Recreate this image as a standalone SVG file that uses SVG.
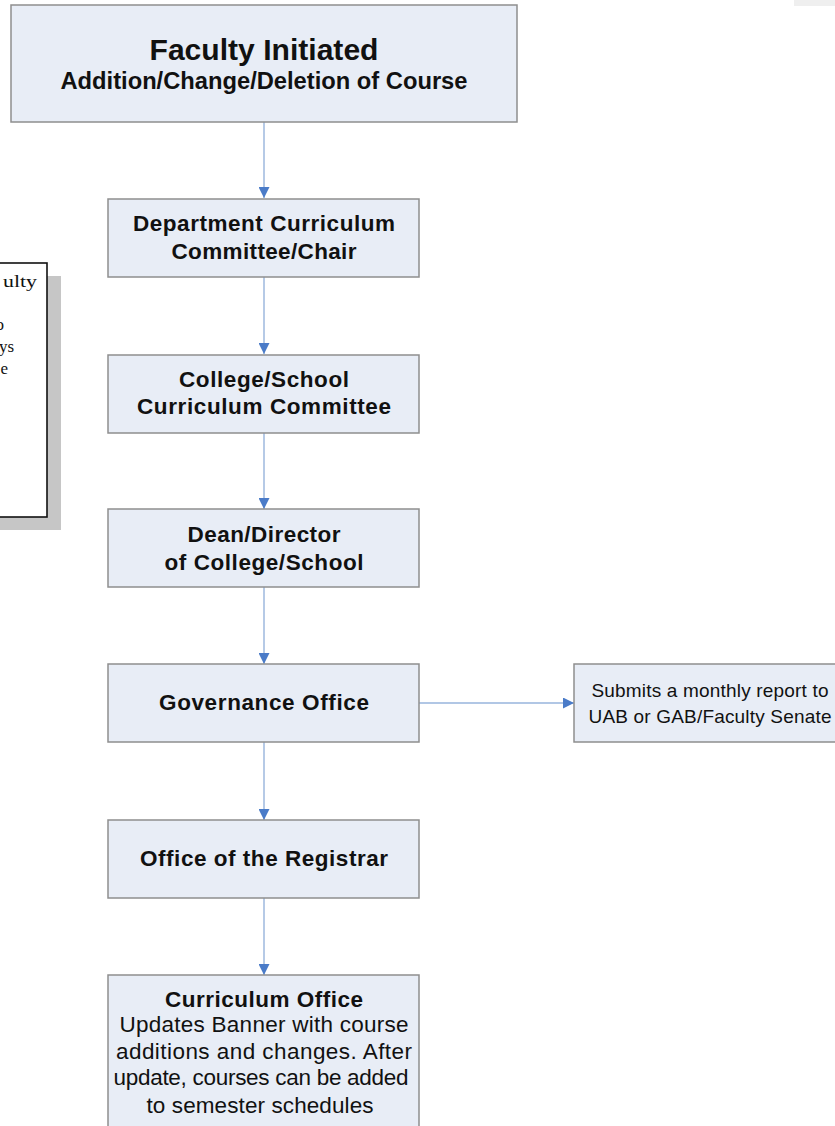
<svg xmlns="http://www.w3.org/2000/svg" width="835" height="1126" viewBox="0 0 835 1126">
<defs>
<marker id="ah" markerUnits="userSpaceOnUse" markerWidth="11" markerHeight="11" refX="11" refY="5.5" orient="auto">
<path d="M0,0 L11,5.5 L0,11 z" fill="#4a7bc8"/>
</marker>
</defs>
<style>
.box{fill:#e8edf6;stroke:#8e8e8e;stroke-width:1.5}
.b{font-family:"Liberation Sans",Arial,sans-serif;font-weight:bold;fill:#111;text-anchor:middle}
.r{font-family:"Liberation Sans",Arial,sans-serif;fill:#111;text-anchor:middle}
.t{font-family:"Liberation Serif","Times New Roman",serif;font-size:17px;fill:#111;text-anchor:end}
.c{stroke:#97b4dc;stroke-width:1.4;fill:none}
</style>
<rect x="794" y="0" width="41" height="6" fill="#efefef"/>
<g id="note">
<rect x="-186" y="276" width="247" height="254" fill="#c6c6c6"/>
<rect x="-200" y="263" width="247" height="254" fill="#fff" stroke="#111" stroke-width="1.6"/>
<text class="t" x="37" y="287" textLength="34" lengthAdjust="spacingAndGlyphs">ulty</text>
<text class="t" x="4" y="330">o</text>
<text class="t" x="14" y="352">ys</text>
<text class="t" x="8" y="374">e</text>
</g>
<g id="connectors">
<line class="c" x1="264" y1="122" x2="264" y2="198" marker-end="url(#ah)"/>
<line class="c" x1="264" y1="277" x2="264" y2="354" marker-end="url(#ah)"/>
<line class="c" x1="264" y1="433" x2="264" y2="509" marker-end="url(#ah)"/>
<line class="c" x1="264" y1="587" x2="264" y2="664" marker-end="url(#ah)"/>
<line class="c" x1="264" y1="742" x2="264" y2="820" marker-end="url(#ah)"/>
<line class="c" x1="264" y1="898" x2="264" y2="975" marker-end="url(#ah)"/>
<line class="c" x1="419" y1="703" x2="574" y2="703" marker-end="url(#ah)"/>
</g>
<g id="faculty">
<rect class="box" x="11" y="5" width="506" height="117"/>
<text class="b" x="264" y="60" font-size="29" textLength="229" lengthAdjust="spacingAndGlyphs">Faculty Initiated</text>
<text class="b" x="264" y="89" font-size="23" textLength="407" lengthAdjust="spacingAndGlyphs">Addition/Change/Deletion of Course</text>
</g>
<g id="department">
<rect class="box" x="108" y="199" width="311" height="78"/>
<text class="b" x="264" y="231" font-size="22.5" textLength="262">Department Curriculum</text>
<text class="b" x="264" y="259" font-size="22.5" textLength="185">Committee/Chair</text>
</g>
<g id="college">
<rect class="box" x="108" y="355" width="311" height="78"/>
<text class="b" x="264" y="387" font-size="22.5" textLength="170">College/School</text>
<text class="b" x="264" y="414" font-size="22.5" textLength="254">Curriculum Committee</text>
</g>
<g id="dean">
<rect class="box" x="108" y="509" width="311" height="78"/>
<text class="b" x="264" y="542" font-size="22.5" textLength="153">Dean/Director</text>
<text class="b" x="264" y="570" font-size="22.5" textLength="199">of College/School</text>
</g>
<g id="governance">
<rect class="box" x="108" y="664" width="311" height="78"/>
<text class="b" x="264" y="710" font-size="22.5" textLength="210">Governance Office</text>
</g>
<g id="report">
<rect class="box" x="574" y="664" width="272" height="78"/>
<text class="r" x="710" y="697" font-size="19" textLength="237">Submits a monthly report to</text>
<text class="r" x="710" y="723" font-size="19" textLength="243">UAB or GAB/Faculty Senate</text>
</g>
<g id="registrar">
<rect class="box" x="108" y="820" width="311" height="78"/>
<text class="b" x="264" y="866" font-size="22.5" textLength="248">Office of the Registrar</text>
</g>
<g id="curriculum">
<rect class="box" x="108" y="975" width="311" height="160"/>
<text class="b" x="264" y="1007" font-size="22.5" textLength="198">Curriculum Office</text>
<text class="r" x="264" y="1032" font-size="22.5" textLength="289">Updates Banner with course</text>
<text class="r" x="264" y="1059" font-size="22.5" textLength="296">additions and changes. After</text>
<text class="r" x="261" y="1085" font-size="22.5" textLength="295">update, courses can be added</text>
<text class="r" x="260" y="1113" font-size="22.5" textLength="227">to semester schedules</text>
</g>
</svg>
